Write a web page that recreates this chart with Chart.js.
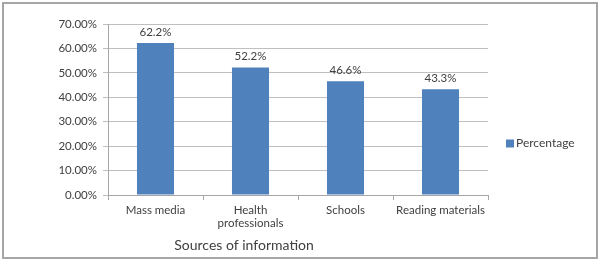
<!DOCTYPE html>
<html>
<head>
<meta charset="utf-8">
<script src="https://cdn.jsdelivr.net/npm/chart.js@4"></script>
<style>
    html, body { margin: 0; padding: 0; background: #fff; }
    #wrap { position: relative; width: 600px; height: 262px; }
    canvas { display: block; }
</style>
</head>
<body>
<div id="wrap"><canvas id="chart" width="600" height="262"></canvas></div>
<script>
const CATEGORIES = ['Mass media', ['Health', 'professionals'], 'Schools', 'Reading materials'];
const PERCENTAGE = [62.2, 52.2, 46.6, 43.3];
const Y_TICKS = [0, 10, 20, 30, 40, 50, 60, 70];
const SERIES_LABEL = 'Percentage';
const AXIS_TITLE = 'Sources of information';

const BAR_COLOR = '#4f81bd';
const TEXT_COLOR = '#404040';
const FONT = 'Lato, "Liberation Sans", sans-serif';

// frame round the whole chart, like the Excel chart area
const framePlugin = {
    id: 'frame',
    afterDraw(chart) {
        const ctx = chart.ctx;
        ctx.save();
        ctx.strokeStyle = '#a6a6a6';
        ctx.lineWidth = 2;
        ctx.strokeRect(3, 3, 594, 255);
        ctx.restore();
    }
};

// value labels above bars
const valueLabels = {
    id: 'valueLabels',
    afterDatasetsDraw(chart) {
        const ctx = chart.ctx;
        const meta = chart.getDatasetMeta(0);
        ctx.save();
        ctx.font = '11.5px ' + FONT;
        ctx.fillStyle = TEXT_COLOR;
        ctx.textAlign = 'center';
        ctx.textBaseline = 'middle';
        meta.data.forEach((bar, i) => {
            ctx.fillText(PERCENTAGE[i].toFixed(1) + '%', bar.x, bar.y - 11);
        });
        ctx.restore();
    }
};

// axis title and legend, placed as in the original
const extras = {
    id: 'extras',
    afterDraw(chart) {
        const ctx = chart.ctx;
        const area = chart.chartArea;
        ctx.save();
        ctx.fillStyle = TEXT_COLOR;
        ctx.textBaseline = 'middle';
        ctx.font = '14px ' + FONT;
        ctx.textAlign = 'center';
        ctx.fillText(AXIS_TITLE, 244, 245);

        const ly = (area.top + area.bottom) / 2 + 34;
        ctx.fillStyle = BAR_COLOR;
        ctx.fillRect(506, ly - 4, 8, 8);
        ctx.fillStyle = TEXT_COLOR;
        ctx.font = '12px ' + FONT;
        ctx.textAlign = 'left';
        ctx.fillText(SERIES_LABEL, 516, ly);
        ctx.restore();
    }
};

new Chart(document.getElementById('chart').getContext('2d'), {
    type: 'bar',
    data: {
        labels: CATEGORIES,
        datasets: [{
            label: SERIES_LABEL,
            data: PERCENTAGE,
            backgroundColor: BAR_COLOR,
            categoryPercentage: 0.39,
            barPercentage: 1,
        }]
    },
    options: {
        responsive: false,
        animation: false,
        layout: { padding: { top: 24, right: 112, bottom: 0, left: 0 } },
        scales: {
            x: {
                grid: {
                    offset: true,
                    drawOnChartArea: false,
                    drawTicks: true,
                    tickLength: 5,
                    color: '#a6a6a6',
                },
                border: { color: '#a6a6a6' },
                ticks: {
                    color: TEXT_COLOR,
                    font: { family: FONT, size: 11.5 },
                    maxRotation: 0,
                    autoSkip: false,
                    padding: 3,
                },
                afterFit(scale) { scale.height = 67; }
            },
            y: {
                min: 0,
                max: 70,
                afterBuildTicks(scale) { scale.ticks = Y_TICKS.map(v => ({ value: v })); },
                grid: { color: '#bfbfbf', tickLength: 5 },
                border: { color: '#a6a6a6' },
                ticks: {
                    color: TEXT_COLOR,
                    font: { family: FONT, size: 11.5 },
                    padding: 6,
                    callback: v => v.toFixed(2) + '%',
                },
                afterFit(scale) { scale.width = 108; }
            }
        },
        plugins: {
            legend: { display: false },
            tooltip: { enabled: false }
        }
    },
    plugins: [framePlugin, valueLabels, extras]
});
</script>
</body>
</html>
